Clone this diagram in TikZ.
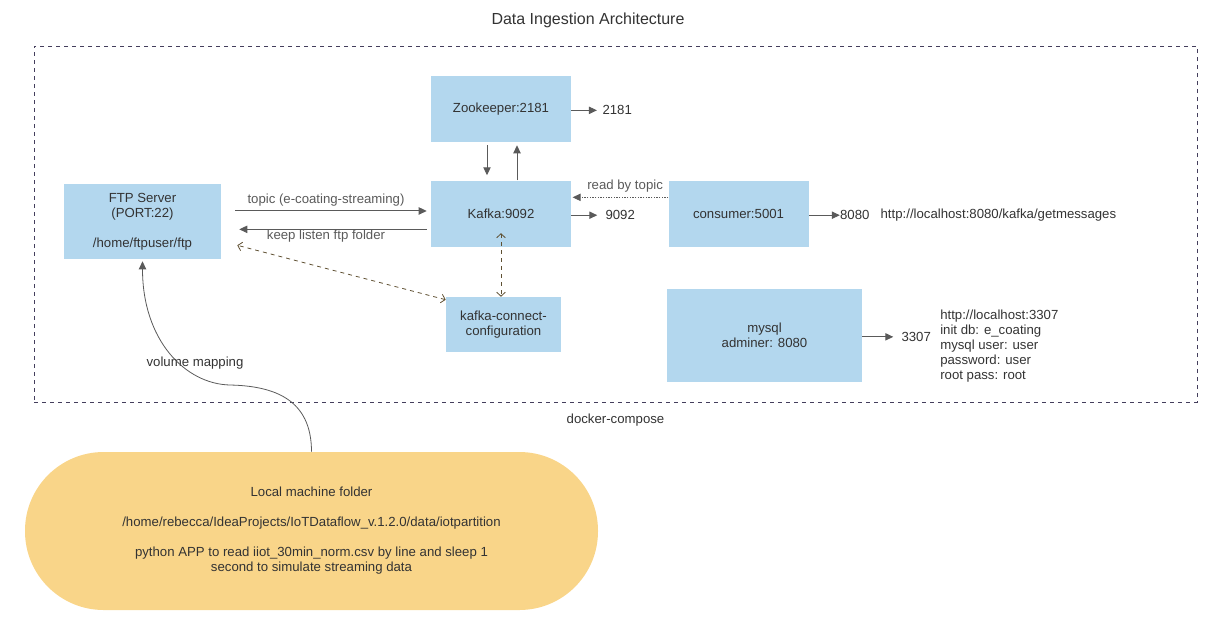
\documentclass[tikz,border=0pt]{standalone}
\usepackage{fontspec}
\setmainfont{Liberation Sans}
\usetikzlibrary{arrows.meta, positioning, calc}
\definecolor{boxblue}{RGB}{179,215,238}
\definecolor{folderyellow}{RGB}{249,213,137}
\definecolor{textgray}{RGB}{51,51,51}
\definecolor{arrowgray}{RGB}{90,90,90}
\definecolor{framegray}{RGB}{68,62,92}
\definecolor{linkbrown}{RGB}{95,80,50}

\begin{document}
\begin{tikzpicture}[
        x=0.75pt, y=-0.75pt,
        font=\fontsize{9.9pt}{11.25pt}\selectfont,
        text=textgray,
        box/.style={rectangle, fill=boxblue, draw=none, align=center, inner sep=2pt},
        port/.style={inner sep=0pt, yshift=-1pt},
        arr/.style={-{Triangle[length=6pt,width=5.5pt]}, arrowgray, line width=0.75pt},
        link/.style={{Straight Barb[length=3pt,width=6.5pt]}-{Straight Barb[length=3pt,width=6.5pt]}, dashed, linkbrown, line width=0.6pt}
    ]
        \useasboundingbox (0,0) rectangle (1213,629);

        \node[font=\fontsize{12pt}{14pt}\selectfont] (title) at (588,20.5) {Data Ingestion Architecture};
        \node[draw=framegray, dashed, line width=0.6pt, minimum width=872.25pt, minimum height=267pt, inner sep=0pt] (compose) at (615.5,224) {};
        \node[below=5pt of compose] (composelabel) {docker-compose};

        % services inside docker-compose
        \node[box, minimum width=105pt, minimum height=49.5pt] (zoo) at (501,109) {Zookeeper:2181};
        \node[box, minimum width=105pt, minimum height=50pt, below=28.5pt of zoo] (kafka) {Kafka:9092};
        \node[box, minimum width=105pt, minimum height=50pt, right=72.75pt of kafka] (consumer) {consumer:5001};
        \node[box, minimum width=117.75pt, minimum height=56.25pt] (ftp) at (142.5,221.5) {FTP Server\\(PORT:22)\\[11.25pt]/home/ftpuser/ftp};
        \node[box, minimum width=86.25pt, minimum height=41.25pt] (kcc) at (503.5,324.5) {kafka-connect-\\configuration};
        \node[box, minimum width=146.25pt, minimum height=69.75pt] (mysql) at (764.5,335.5) {mysql\\adminer: 8080};

        % exposed ports
        \node[port, right=23.25pt of zoo] (p2181) {2181};
        \node[port, right=25.5pt of kafka] (p9092) {9092};
        \node[port, right=23.25pt of consumer] (p8080) {8080};
        \node[port, right=8pt of p8080, yshift=1pt] (url) {http://localhost:8080/kafka/getmessages};
        \node[port, right=29.25pt of mysql] (p3307) {3307};
        \node[port, anchor=west, align=left] (dbinfo) at (940,345) {http://localhost:3307\\init db: e\_coating\\mysql user: user\\password: user\\root pass: root};

        % local machine
        \node[rectangle, fill=folderyellow, rounded corners=59pt, minimum width=429.75pt, minimum height=118.5pt, align=center] (local) at (311.5,531) {Local machine folder\\[11.25pt]/home/rebecca/IdeaProjects/IoTDataflow\_v.1.2.0/data/iotpartition\\[11.25pt]python APP to read iiot\_30min\_norm.csv by line and sleep 1\\second to simulate streaming data};
        \coordinate (vmbend) at (230,385);
        \node (vmlabel) at (195,363) {volume mapping};

        \draw[arr] ([xshift=-10.5pt,yshift=-2.25pt]zoo.south) -- ([xshift=-10.5pt,yshift=3.75pt]kafka.north);
        \draw[arr] ([xshift=12pt]kafka.north) -- ([xshift=12pt,yshift=-2.25pt]zoo.south);
        \draw[arr, shorten >=4pt] (zoo.east |- p2181) -- (p2181.west);
        \draw[arr, shorten >=6pt] (kafka.east |- p9092) -- (p9092.west);
        \draw[arr] (consumer.east |- p8080) -- (p8080.west);
        \draw[arr, shorten >=6pt] (mysql.east |- p3307) -- (p3307.west);

        \draw[arr, shorten <=10.5pt, shorten >=3pt] ([yshift=7.9pt]ftp.east) -- node[above] {topic (e-coating-streaming)} ([yshift=7.9pt]ftp.east -| kafka.west);
        \draw[arr, shorten <=3pt, shorten >=13.5pt] ([yshift=-11.6pt]kafka.west) -- node[below, inner sep=0pt] {keep listen ftp folder} ([yshift=-11.6pt]kafka.west -| ftp.east);
        \draw[arr, line width=0.6pt, dash pattern=on 1pt off 1pt, shorten >=1pt] ([yshift=12.4pt]consumer.west) -- node[above, xshift=4pt] {read by topic} ([yshift=12.4pt]consumer.west -| kafka.east);

        \draw[link] ([yshift=-14.5pt]kafka.center) -- (kcc.north -| kafka.center);
        \draw[link] ([yshift=-2.25pt]kcc.north west) -- ([xshift=12pt,yshift=10.5pt]ftp.south east);

        \draw[arr, line width=0.6pt] (local.north) .. controls +(0,-52) and (275,386) .. (vmbend) .. controls (185,384) and (142.5,340) .. ([yshift=-1.5pt]ftp.south);
    \end{tikzpicture}
\end{document}
